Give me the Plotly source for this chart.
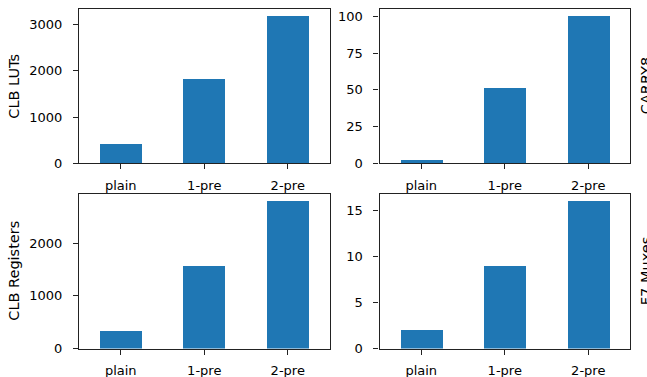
import plotly.graph_objects as go
from plotly.subplots import make_subplots

categories = ["plain", "1-pre", "2-pre"]
clb_luts = [425, 1810, 3170]
carry8 = [2, 51, 100]
clb_registers = [337, 1575, 2795]
f7_muxes = [2, 9, 16]

panels = [
    ("CLB LUTs", clb_luts, 1, 1, "left"),
    ("CARRY8", carry8, 1, 2, "right"),
    ("CLB Registers", clb_registers, 2, 1, "left"),
    ("F7 Muxes", f7_muxes, 2, 2, "right"),
]

W, H_IMG = 647, 377
H = 386
xdom = {1: [79 / W, 329.5 / W], 2: [379.5 / W, 630 / W]}
ydom = {1: [1 - 163 / H_IMG, 1 - 9 / H_IMG], 2: [1 - 347.7 / H_IMG, 1 - 193.3 / H_IMG]}

FONT = "DejaVu Sans"
TXT = "#000000"

fig = make_subplots(rows=2, cols=2)
annotations = []
for label, vals, r, c, side in panels:
    fig.add_trace(go.Bar(x=categories, y=vals, width=0.5, marker_color="#1f77b4",
                         marker_line_width=0, showlegend=False), row=r, col=c)
    fig.update_xaxes(domain=xdom[c], row=r, col=c, type="category", range=[-0.5, 2.5],
                     showline=True, mirror=True, linecolor="#222", linewidth=1.1,
                     ticks="outside", ticklen=5, tickwidth=1.1, tickcolor="#222",
                     showgrid=False, zeroline=False, ticklabelstandoff=5,
                     tickfont=dict(family=FONT, size=13, color=TXT))
    fig.update_yaxes(domain=ydom[r], row=r, col=c, range=[0, max(vals) * 1.05],
                     showline=True, mirror=True, linecolor="#222", linewidth=1.1,
                     ticks="outside", ticklen=5, tickwidth=1.1, tickcolor="#222",
                     showgrid=False, zeroline=False, ticklabelstandoff=8,
                     tickfont=dict(family=FONT, size=13, color=TXT))
    ymid = (ydom[r][0] + ydom[r][1]) / 2
    if side == "left":
        annotations.append(dict(text=label, xref="paper", yref="paper", x=14.5 / W, y=ymid,
                                xanchor="center", yanchor="middle", textangle=-90,
                                showarrow=False, font=dict(family=FONT, size=14.5, color=TXT)))
    else:
        annotations.append(dict(text=label, xref="paper", yref="paper", x=636 / W, y=ymid,
                                xanchor="left", yanchor="middle", textangle=-90,
                                showarrow=False, font=dict(family=FONT, size=14.5, color=TXT)))

fig.update_yaxes(dtick=1000, row=1, col=1)
fig.update_yaxes(dtick=25, row=1, col=2)
fig.update_yaxes(dtick=1000, row=2, col=1)
fig.update_yaxes(dtick=5, row=2, col=2)

fig.update_layout(width=W, height=H, margin=dict(l=0, r=0, t=0, b=0),
                  paper_bgcolor="white", plot_bgcolor="white",
                  annotations=annotations, bargap=0)
fig.write_html("out.html")
